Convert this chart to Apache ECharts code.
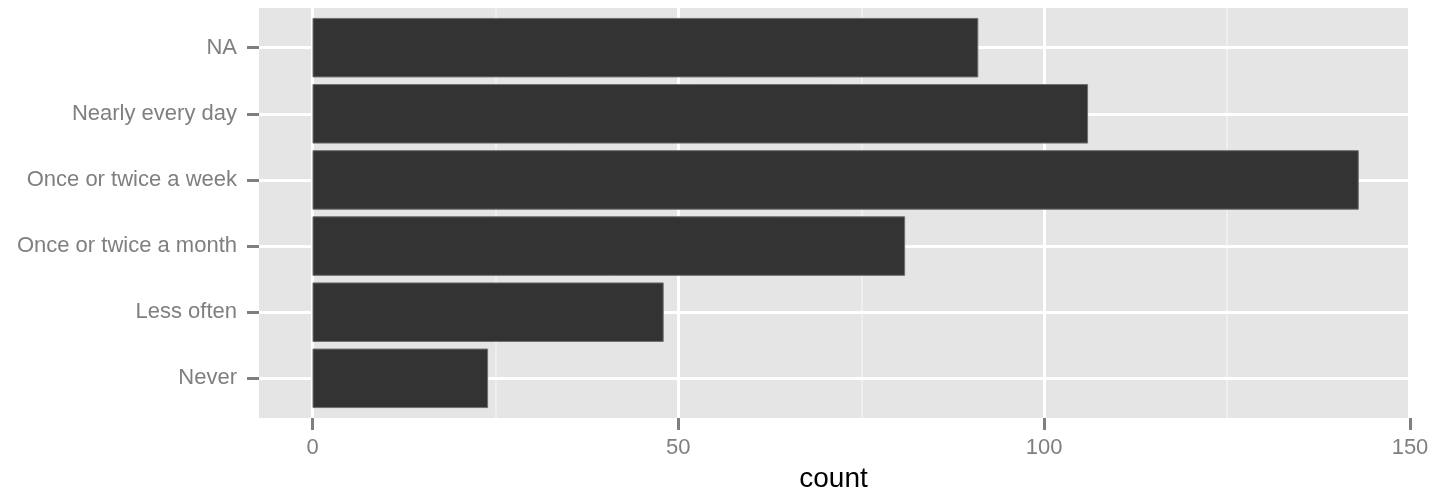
<!DOCTYPE html>
<html>
<head>
<meta charset="utf-8">
<script src="https://cdn.jsdelivr.net/npm/echarts@6/dist/echarts.min.js"></script>
<style>
  html, body { margin: 0; padding: 0; background: #ffffff; }
  #chart { width: 1434px; height: 491px; }
</style>
</head>
<body>
<div id="chart"></div>
<script>
// ---- data ----
var categories = ['Never', 'Less often', 'Once or twice a month', 'Once or twice a week', 'Nearly every day', 'NA'];
var counts = [24, 48, 81, 143, 106, 91];
var xTicks = [0, 50, 100, 150];
var xTitle = 'count';

// ---- layout (pixels) ----
var W = 1434, H = 491;
var panelLeft = 259, panelRight = 1408, panelTop = 8, panelBottom = 418;
var zeroPx = 312.5;                     // pixel where 0 sits
var maxTickPx = 1410;                   // pixel where the last tick sits
var xMax = xTicks[xTicks.length - 1];
var pxPerUnit = (maxTickPx - zeroPx) / xMax;
var xMinPanel = -(zeroPx - panelLeft) / pxPerUnit;
var xMaxPanel = (panelRight - zeroPx) / pxPerUnit;
// discrete axis padding of 0.6 category on each side -> bands occupy 6 of 6.2 units
var unit = (panelBottom - panelTop) / (categories.length + 0.2);
var bandTop = panelTop + 0.1 * unit;
var bandBottom = panelBottom - 0.1 * unit;

var FONT = '"Liberation Sans", Arial, sans-serif';
var tickColor = '#7F7F7F';
var labelColor = '#7F7F7F';

var chart = echarts.init(document.getElementById('chart'), null, { renderer: 'canvas' });
chart.setOption({
  backgroundColor: '#ffffff',
  animation: false,
  textStyle: { fontFamily: FONT },
  grid: [
    { // 0: panel background
      left: panelLeft, right: W - panelRight, top: panelTop, bottom: H - panelBottom,
      show: true, backgroundColor: '#E5E5E5', borderWidth: 0, z: -1,
      containLabel: false, outerBoundsMode: 'none'
    },
    { // 1: bars + category axis
      left: panelLeft, right: W - panelRight, top: bandTop, bottom: H - bandBottom,
      show: false, containLabel: false, outerBoundsMode: 'none'
    },
    { // 2: numeric axis ticks / vertical gridlines
      left: zeroPx, right: W - maxTickPx, top: panelTop, bottom: H - panelBottom,
      show: false, containLabel: false, outerBoundsMode: 'none'
    }
  ],
  xAxis: [
    { gridIndex: 0, type: 'value', show: false, min: 0, max: 1 },
    {
      gridIndex: 1, type: 'value', min: xMinPanel, max: xMaxPanel,
      axisLine: { show: false, onZero: false }, axisTick: { show: false }, axisLabel: { show: false },
      splitLine: { show: false },
      name: xTitle, nameLocation: 'middle', nameGap: 54,
      nameTextStyle: { fontSize: 28, color: '#000000', fontFamily: FONT }
    },
    {
      gridIndex: 2, type: 'value', min: 0, max: xMax, interval: 50,
      axisLine: { show: false, onZero: false },
      axisTick: { show: true, length: 12, lineStyle: { color: tickColor, width: 3 } },
      axisLabel: { fontSize: 22, color: labelColor, margin: 19, fontFamily: FONT },
      splitLine: { show: true, lineStyle: { color: '#FFFFFF', width: 3 } },
      minorTick: { show: false, splitNumber: 2 },
      minorSplitLine: { show: true, lineStyle: { color: '#F2F2F2', width: 1.5 } }
    }
  ],
  yAxis: [
    { gridIndex: 0, type: 'value', show: false, min: 0, max: 1 },
    {
      gridIndex: 1, type: 'category', data: categories, z: 1, position: 'left',
      axisLine: { show: false, onZero: false },
      axisTick: { show: true, alignWithLabel: true, length: 12, lineStyle: { color: tickColor, width: 3 } },
      axisLabel: { fontSize: 22, color: labelColor, margin: 22, fontFamily: FONT },
      splitLine: { show: true, alignWithLabel: true, lineStyle: { color: '#FFFFFF', width: 3 } }
    },
    { gridIndex: 2, type: 'value', show: false, min: 0, max: 1 }
  ],
  series: [
    {
      type: 'bar',
      xAxisIndex: 1, yAxisIndex: 1,
      data: counts,
      barWidth: '90%',
      itemStyle: { color: '#333333', borderColor: '#6E6E6E', borderWidth: 1 },
      z: 3
    }
  ]
});
</script>
</body>
</html>
